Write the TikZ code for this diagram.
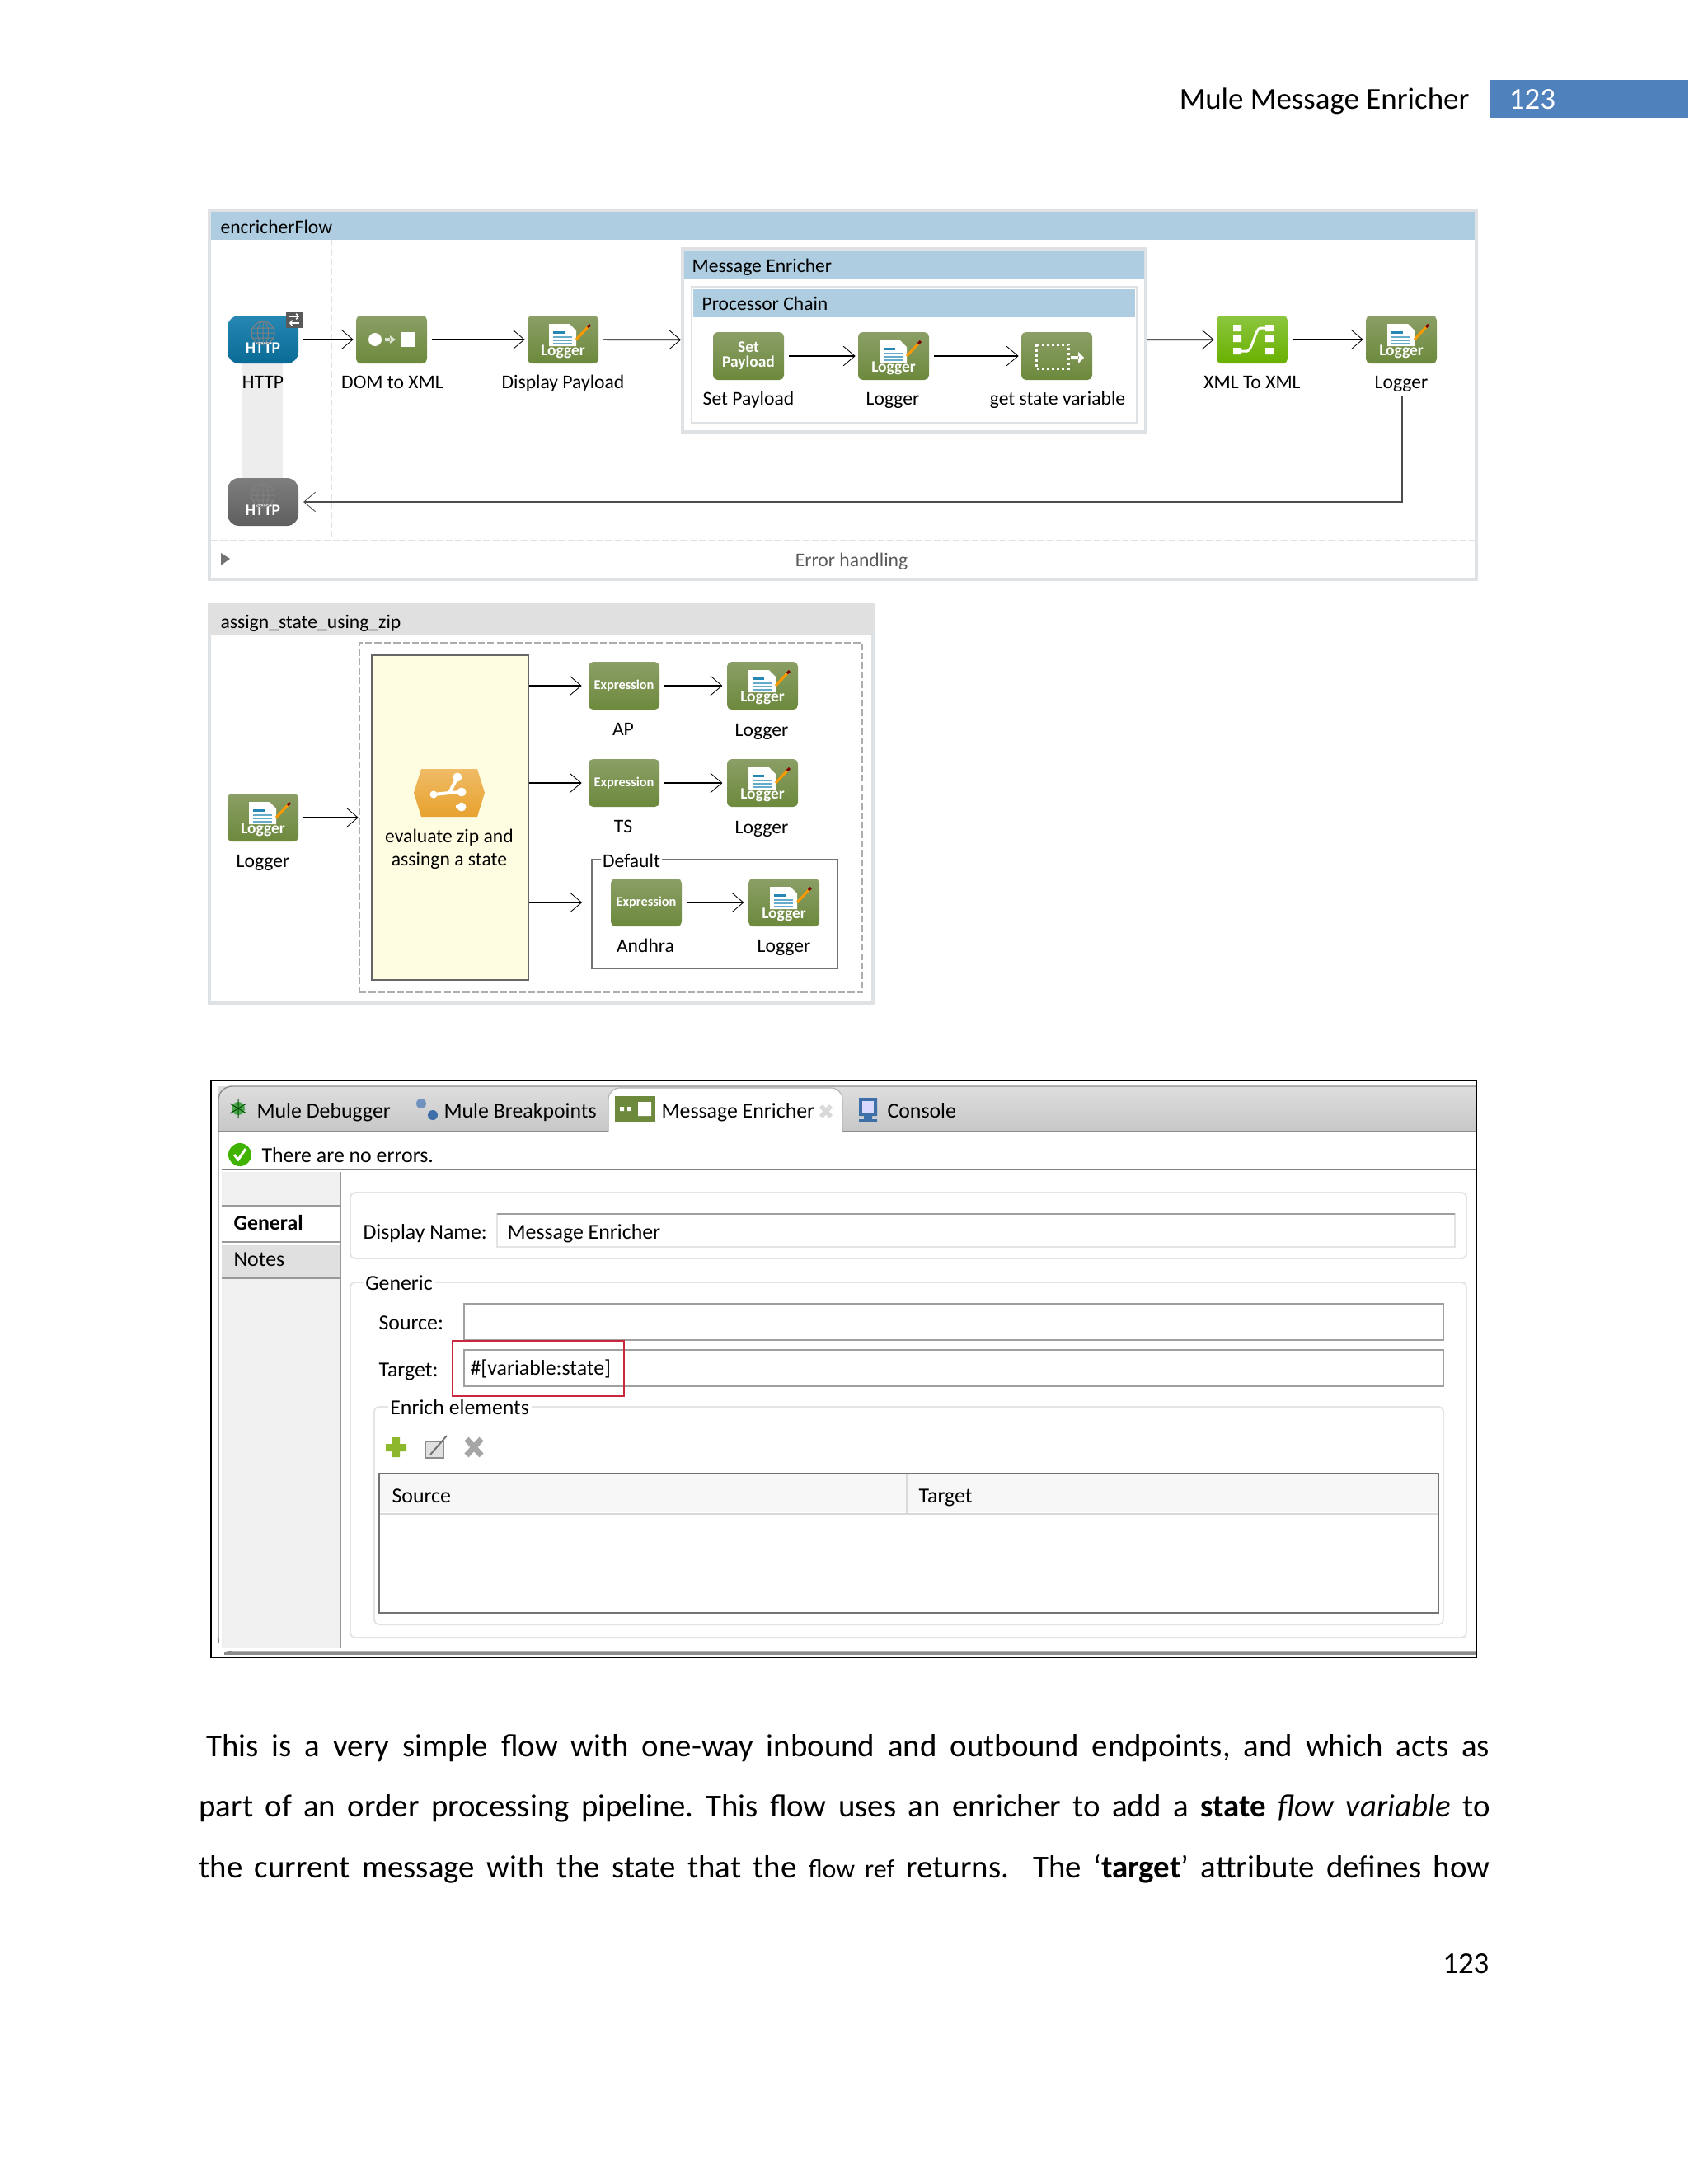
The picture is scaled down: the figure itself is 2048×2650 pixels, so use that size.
\documentclass[tikz,border=0pt]{standalone}
\usepackage{fontspec}
\setmainfont{Carlito}
\usetikzlibrary{arrows.meta}
\newdimen\pxu
\pxu=0.36pt
\definecolor{headblue}{HTML}{AECDE0}
\definecolor{framegrey}{HTML}{DFE2E5}
\definecolor{headgrey}{HTML}{E0E0E0}
\definecolor{icontop}{HTML}{8B9F66}
\definecolor{iconbot}{HTML}{6C893C}
\definecolor{limetop}{HTML}{8CC63F}
\definecolor{limebot}{HTML}{69B000}
\definecolor{httptop}{HTML}{2687B4}
\definecolor{httpbot}{HTML}{0A6B96}
\definecolor{greytop}{HTML}{7E7E7E}
\definecolor{greybot}{HTML}{5F5F5F}
\definecolor{barblue}{HTML}{4F81BD}
\definecolor{noteyellow}{HTML}{FFFDE1}
\definecolor{redmark}{HTML}{C8283C}
\definecolor{fieldgrey}{HTML}{A0A0A0}
\definecolor{groupgrey}{HTML}{E2E4E6}
\definecolor{sidegrey}{HTML}{F0F0F0}
\definecolor{orangetop}{HTML}{EFBB66}
\definecolor{orangebot}{HTML}{E8A22F}
\definecolor{plusgreen}{HTML}{8DB82B}
\definecolor{screenblue}{HTML}{3F6FA8}
\newcommand{\lgtext}{\raisebox{-7pt}[0pt][0pt]{Logger}}
\newcommand{\httptext}{\raisebox{-5.8pt}[0pt][0pt]{HTTP}}
\newcommand{\exptext}{{\fontsize{5.9}{7}\selectfont Expression}}
\tikzset{
  flowbox/.style={rectangle,rounded corners=2pt,inner sep=0pt,minimum width=86\pxu,minimum height=58\pxu,
    top color=icontop,bottom color=iconbot,text=white,font=\fontsize{7}{7.5}\selectfont\bfseries,align=center},
  limebox/.style={flowbox,top color=limetop,bottom color=limebot},
  httpbox/.style={flowbox,rounded corners=5pt,top color=httptop,bottom color=httpbot},
  greybox/.style={flowbox,rounded corners=5pt,top color=greytop,bottom color=greybot},
  flowcap/.style={inner sep=0pt,anchor=mid,yshift=-0.6pt,font=\fontsize{8.5}{10}\selectfont},
  flowhead/.style={inner sep=0pt,anchor=mid west,yshift=-0.5pt,font=\fontsize{8.5}{10}\selectfont},
  uitext/.style={inner sep=0pt,anchor=mid west,yshift=-0.6pt,font=\fontsize{9.3}{11}\selectfont},
  legend/.style={uitext,inner sep=1pt,fill=white},
  pagetext/.style={inner sep=0pt,anchor=mid west,yshift=-2.2pt,font=\fontsize{14}{16}\selectfont},
  flow/.style={line width=0.62pt,shorten <=1.8pt,shorten >=1pt,-{Straight Barb[length=5pt,width=8.5pt,line width=0.3pt]}},
  rowfield/.style={draw=fieldgrey,line width=0.6pt,fill=white},
  group/.style={draw=groupgrey,line width=0.7pt,rounded corners=2pt},
  loggerart/.pic={
    \fill[white] (-17,-19) -- (8,-19) -- (16,-11) -- (16,8) -- (-17,8) -- cycle;
    \fill[httptop] (-12,-10) rectangle (2,-7);
    \foreach \ly in {-4,0,4} \fill[httptop!70] (-12,\ly) rectangle (11,\ly+2);
    \draw[orange!80!yellow,line width=3\pxu] (16,0) -- (30,-15);
    \draw[red!50!black,line width=3\pxu] (30,-15) -- (33,-18);
  },
  domart/.pic={
    \fill[white] (-20,0) circle (8);
    \fill[white!70!icontop] (-8,-2) rectangle (-1,2) (-2,-5) -- (5,0) -- (-2,5) -- cycle;
    \fill[white] (11,-9) rectangle (28,9);
  },
  chainart/.pic={
    \draw[white,line width=3\pxu,dash pattern=on 3\pxu off 3\pxu] (-25,-14) rectangle (14,15);
    \fill[white] (17,0) rectangle (27,4) (26,-5) -- (33,2) -- (26,9) -- cycle;
  },
  xmlart/.pic={
    \foreach \ly in {-14,-1,14} \fill[white] (-23,\ly-4) rectangle (-13,\ly+4) (16,\ly-4) rectangle (26,\ly+4);
    \draw[white,line width=3\pxu] (-14,14) -- (-6,14) .. controls (0,14) and (4,-14) .. (10,-14) -- (18,-14);
  },
  globeart/.pic={
    \draw[white!50!black,line width=1.2\pxu] (0,-8) circle (14);
    \draw[white!50!black,line width=1\pxu] (0,-8) ellipse (6.5 and 14) (-14,-8) -- (14,-8) (-12,-14) -- (12,-14) (-12,-2) -- (12,-2) (0,-22) -- (0,6);
  },
  choiceart/.pic={
    \shade[top color=orangetop,bottom color=orangebot] (-34,-29) -- (34,-29) -- (43,0) -- (34,29) -- (-34,29) -- (-43,0) -- cycle;
    \draw[white,line width=4\pxu] (-19,2) -- (0,0) -- (10,-19) (0,0) -- (15,-1) (8,17) -- (15,17);
    \fill[white] (10,-19) circle (5.5) (15,-1) circle (5.5) (15,17) circle (5.5) (-19,2) circle (4.5);
  },
}
\begin{document}
\frenchspacing
\begin{tikzpicture}[x=\pxu,y=-\pxu]
  \useasboundingbox (0,0) rectangle (2048,2650);
  \fill[barblue] (1807,97) rectangle (2048,143);
  \node[inner sep=0pt,anchor=mid east,yshift=-1.8pt,font=\fontsize{13.3}{15}\selectfont] (pagetitle) at (1783,121) {Mule Message Enricher};
  \node[inner sep=0pt,anchor=mid,yshift=-1.8pt,text=white,font=\fontsize{13.3}{15}\selectfont] (pagetag) at (1859,121) {123};

  \draw[framegrey,line width=1.2pt] (254,256) rectangle (1791,703);
  \fill[headblue] (256,257) rectangle (1789,291);
  \node[flowhead] (flowname) at (267,275) {encricherFlow};
  \draw[framegrey,line width=1pt,dash pattern=on 3pt off 1.1pt] (402,291) -- (402,655);
  \draw[framegrey,line width=1pt,dash pattern=on 3pt off 1.1pt] (256,656) -- (1789,656);
  \fill[black!55] (268,671) -- (279,678) -- (268,686) -- cycle;
  \node[flowcap,text=black!65] (errname) at (1033,679) {Error handling};
  \fill[black!7] (293,441) rectangle (343,580);

  \node[httpbox] (http) at (319,412) {\httptext};
  \pic at (http) {globeart};
  \fill[black!65] (347,378) rectangle (367,398);
  \draw[white,line width=1.5\pxu,-{Straight Barb[length=1pt,width=2.4pt]}] (351,384) -- (363,384);
  \draw[white,line width=1.5\pxu,-{Straight Barb[length=1pt,width=2.4pt]}] (363,392) -- (351,392);
  \node[greybox] (httpback) at (319,609) {\httptext};
  \pic at (httpback) {globeart};
  \node[flowbox] (domxml) at (475,412) {};
  \pic at (domxml) {domart};
  \node[flowbox] (display) at (683,412) {\lgtext};
  \pic at (display) {loggerart};
  \node[rectangle,draw=framegrey,line width=1.4pt,fill=white,inner sep=0pt,minimum width=562\pxu,minimum height=222\pxu] (enricher) at (1109,413) {};
  \fill[headblue] (830,304) rectangle (1388,338);
  \node[flowhead] (enrichername) at (839,322) {Message Enricher};
  \draw[framegrey,line width=1pt] (839,348) rectangle (1379,513);
  \fill[headblue] (841,351) rectangle (1377,385);
  \node[flowhead] (chainname) at (851,368) {Processor Chain};
  \node[flowbox] (setpay) at (908,432) {Set\\[-1pt]Payload};
  \node[flowbox] (chainlog) at (1084,432) {\lgtext};
  \pic at (chainlog) {loggerart};
  \node[flowbox] (getstate) at (1282,432) {};
  \pic at (getstate) {chainart};
  \node[limebox] (xmlxml) at (1519,412) {};
  \pic at (xmlxml) {xmlart};
  \node[flowbox] (endlog) at (1700,412) {\lgtext};
  \pic at (endlog) {loggerart};

  \node[flowcap] (httpcap) at (319,463) {HTTP};
  \node[flowcap] (domcap) at (476,463) {DOM to XML};
  \node[flowcap] (displaycap) at (683,463) {Display Payload};
  \node[flowcap] (setcap) at (908,483) {Set Payload};
  \node[flowcap] (chaincap) at (1083,483) {Logger};
  \node[flowcap] (statecap) at (1283,483) {get state variable};
  \node[flowcap] (xmlcap) at (1519,463) {XML To XML};
  \node[flowcap] (endcap) at (1700,463) {Logger};
  \coordinate (returnstart) at (1701,481);

  \draw[flow] (http) -- (domxml);
  \draw[flow] (domxml) -- (display);
  \draw[flow,shorten >=0pt] (display) -- (enricher);
  \draw[flow,shorten <=0pt] (enricher) -- (xmlxml);
  \draw[flow] (xmlxml) -- (endlog);
  \draw[flow] (setpay) -- (chainlog);
  \draw[flow] (chainlog) -- (getstate);
  \draw[flow,black!70,shorten <=0pt,shorten >=2pt] (returnstart) -- (returnstart |- httpback) -- (httpback);

  \draw[framegrey,line width=1.2pt] (254,734) rectangle (1059,1217);
  \fill[headgrey] (254,732) rectangle (1059,770);
  \node[flowhead] (zipname) at (267,754) {assign\_state\_using\_zip};
  \node[rectangle,draw=black!32,line width=0.9pt,dash pattern=on 3pt off 1.1pt,inner sep=0pt,minimum width=610\pxu,minimum height=424\pxu] (zipzone) at (741,992) {};
  \node[rectangle,draw=black!60,line width=0.6pt,fill=noteyellow,inner sep=0pt,minimum width=190\pxu,minimum height=394\pxu] (choice) at (546,992) {};
  \pic at (545,962) {choiceart};
  \node[flowcap,align=center,anchor=center,font=\fontsize{8.5}{10}\selectfont] (choicecap) at (545,1029) {evaluate zip and\\assingn a state};
  \node[flowbox] (ziplog) at (319,992) {\lgtext};
  \pic at (ziplog) {loggerart};
  \node[flowcap] (zipcap) at (319,1044) {Logger};
  \node[flowbox] (apexp) at (757,832) {\exptext};
  \node[flowbox] (aplog) at (925,832) {\lgtext};
  \pic at (aplog) {loggerart};
  \node[flowcap] (apcap) at (756,884) {AP};
  \node[flowcap] (aplogcap) at (924,885) {Logger};
  \node[flowbox] (tsexp) at (757,950) {\exptext};
  \node[flowbox] (tslog) at (925,950) {\lgtext};
  \pic at (tslog) {loggerart};
  \node[flowcap] (tscap) at (756,1002) {TS};
  \node[flowcap] (tslogcap) at (924,1003) {Logger};
  \node[rectangle,draw=black!55,line width=0.5pt,inner sep=0pt,minimum width=298\pxu,minimum height=132\pxu] (dflt) at (867,1109) {};
  \node[flowcap,fill=white,inner sep=0.6pt] (dfltname) at (766,1044) {Default};
  \node[flowbox] (ahexp) at (784,1095) {\exptext};
  \node[flowbox] (ahlog) at (951,1095) {\lgtext};
  \pic at (ahlog) {loggerart};
  \node[flowcap] (ahcap) at (783,1147) {Andhra};
  \node[flowcap] (ahlogcap) at (951,1147) {Logger};

  \draw[flow,shorten >=0pt] (ziplog) -- (zipzone);
  \draw[flow,shorten <=0pt,shorten >=2.8pt] (choice.east |- apexp) -- (apexp);
  \draw[flow,shorten >=1.8pt] (apexp) -- (aplog);
  \draw[flow,shorten <=0pt,shorten >=2.8pt] (choice.east |- tsexp) -- (tsexp);
  \draw[flow,shorten >=1.8pt] (tsexp) -- (tslog);
  \draw[flow,shorten <=0pt,shorten >=4pt] (choice.east |- ahexp) -- (dflt.west |- ahexp);
  \draw[flow,shorten >=1.8pt] (ahexp) -- (ahlog);

  \draw[black,line width=0.75pt] (256,1311) rectangle (1791,2011);
  \shade[top color=black!13,bottom color=black!22] (265,1318) rectangle (1790,1373);
  \draw[black!45,line width=0.5pt,rounded corners=6pt] (1790,1318) -- (265,1318) -- (265,2004) -- (1790,2004);
  \draw[black!45,line width=1.4pt] (272,2006) -- (1790,2006);
  \fill[white] (266,1373) rectangle (1790,2003);
  \draw[black!45,line width=0.5pt] (265,1373) -- (738,1373) (1022,1373) -- (1790,1373);
  \filldraw[white,draw=black!30,line width=0.4pt,rounded corners=5pt] (738,1373.5) -- (738,1320) -- (1022,1320) -- (1022,1373.5);
  \draw[black!50,line width=0.4pt] (269,1419) -- (1790,1419);
  \fill[sidegrey] (269,1422) rectangle (413,1463);
  \draw[black!40,line width=0.6pt] (269,1463) -- (413,1463) (413,1422) -- (413,2000);
  \fill[black!12] (269,1511) rectangle (413,1550);
  \draw[black!40,line width=0.6pt] (269,1507) -- (413,1507) (269,1551) -- (413,1551);
  \fill[sidegrey] (269,1552) rectangle (412,2000);

  \fill[green!50!black!70] (289,1345) circle (8);
  \draw[green!30!black,line width=1\pxu] (289,1333) -- (289,1357) (279,1339) -- (299,1351) (279,1351) -- (299,1339);
  \node[uitext] (debugtab) at (311,1348) {Mule Debugger};
  \fill[screenblue!75] (511,1339) circle (6);
  \fill[screenblue] (525,1353) circle (6);
  \node[uitext] (breaktab) at (538,1348) {Mule Breakpoints};
  \fill[iconbot] (746,1330) rectangle (795,1362);
  \fill[white] (752,1343) rectangle (757,1348) (761,1343) rectangle (765,1348) (774,1337) rectangle (790,1354);
  \node[uitext] (enrichtab) at (802,1348) {Message Enricher};
  \draw[black!15,line width=2pt] (996,1342) -- (1008,1355) (1008,1342) -- (996,1355);
  \fill[screenblue] (1042,1332) rectangle (1064,1354) (1048,1354) rectangle (1058,1358) (1042,1358) rectangle (1064,1361);
  \fill[white!85!blue] (1046,1336) rectangle (1060,1350);
  \node[uitext] (consoletab) at (1076,1348) {Console};

  \fill[green!60!black!75!yellow] (291,1401) circle (14);
  \draw[white,line width=3\pxu] (284,1401) -- (289,1407) -- (298,1394);
  \node[uitext] (statusline) at (317,1402) {There are no errors.};
  \node[uitext,font=\fontsize{9.3}{11}\selectfont\bfseries] (generaltab) at (283,1484) {General};
  \node[uitext] (notestab) at (283,1528) {Notes};

  \draw[group] (425,1447) rectangle (1779,1527);
  \node[uitext] (namelabel) at (440,1495) {Display Name:};
  \draw[groupgrey,line width=0.5pt] (603,1473) rectangle (1765,1513);
  \draw[fieldgrey,line width=0.5pt] (603,1473) -- (1765,1473);
  \node[uitext] (namevalue) at (615,1495) {Message Enricher};

  \draw[group] (425,1556) rectangle (1779,1987);
  \node[legend] (genericname) at (440,1557) {Generic};
  \node[uitext] (sourcelabel) at (459,1605) {Source:};
  \draw[rowfield] (563,1582) rectangle (1751,1626);
  \node[uitext] (targetlabel) at (459,1662) {Target:};
  \draw[rowfield] (563,1638) rectangle (1751,1682);
  \node[uitext] (targetvalue) at (570,1660) {\#[variable:state]};
  \draw[redmark,line width=0.55pt] (549,1627) rectangle (757,1694);

  \draw[group] (454,1707) rectangle (1751,1971);
  \node[legend] (enrichname) at (470,1708) {Enrich elements};
  \fill[plusgreen] (476,1744) rectangle (485,1768) (468,1752) rectangle (493,1761);
  \fill[black!12] (516,1749) rectangle (538,1769);
  \draw[black!45,line width=1pt] (516,1749) rectangle (538,1769);
  \draw[black!55,line width=2\pxu] (522,1765) -- (542,1742);
  \draw[black!35,line width=7\pxu] (566,1746) -- (584,1766) (584,1746) -- (566,1766);

  \fill[black!3] (461,1789) rectangle (1745,1835);
  \draw[black!15,line width=0.7pt] (461,1837) -- (1745,1837) (1100,1789) -- (1100,1836);
  \draw[black!55,line width=0.55pt] (460,1788) rectangle (1745,1957);
  \node[uitext] (tablesource) at (475,1815) {Source};
  \node[uitext] (tabletarget) at (1114,1815) {Target};

  \node[pagetext] (lineone) at (250,2119) {\makebox[1557\pxu][s]{This is a very simple flow with one-way inbound and outbound endpoints, and which acts as}};
  \node[pagetext] (linetwo) at (241,2192) {\makebox[1566\pxu][s]{part of an order processing pipeline. This flow uses an enricher to add a \textbf{state} \textit{flow variable} to}};
  \node[pagetext] (linethree) at (241,2266) {\makebox[1566\pxu][s]{the current message with the state that the {\fontsize{11.5}{13}\selectfont flow ref} returns.~ The ‘\textbf{target}’ attribute defines how}};
  \node[inner sep=0pt,anchor=mid east,yshift=-1.8pt,font=\fontsize{13.3}{15}\selectfont] (pagefoot) at (1807,2383) {123};
\end{tikzpicture}
\end{document}
